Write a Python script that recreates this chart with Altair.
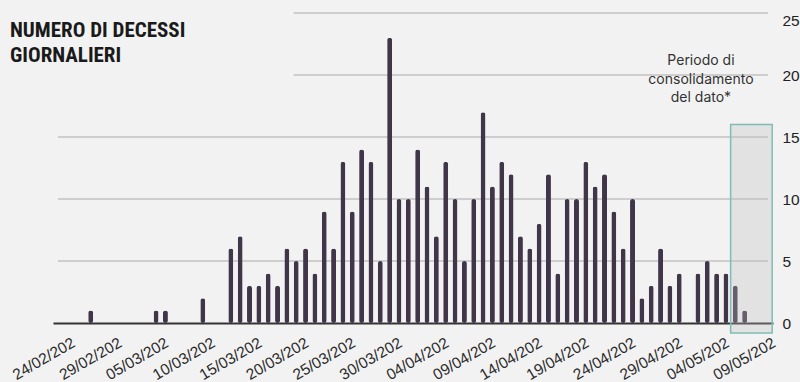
import altair as alt
import pandas as pd

# ---- data ----
start_date = "2020-02-24"
deaths = [0, 0, 0, 1, 0, 0, 0, 0, 0, 0,
          1, 1, 0, 0, 0, 2, 0, 0, 6, 7,
          3, 3, 4, 3, 6, 5, 6, 4, 9, 6,
          13, 9, 14, 13, 5, 23, 10, 10, 14, 11,
          7, 13, 10, 5, 10, 17, 11, 13, 12, 7,
          6, 8, 12, 4, 10, 10, 13, 11, 12, 9,
          6, 10, 2, 3, 6, 3, 4, 0, 4, 5,
          4, 4, 3, 1, 0, 0]
tick_days = [0, 5, 10, 15, 20, 25, 30, 35, 40, 45, 50, 55, 60, 65, 70, 75]
tick_labels = ["24/02/202", "29/02/202", "05/03/202", "10/03/202", "15/03/202",
               "20/03/202", "25/03/202", "30/03/202", "04/04/202", "09/04/202",
               "14/04/202", "19/04/202", "24/04/202", "29/04/202", "04/05/202",
               "09/05/202"]
y_ticks = [0, 5, 10, 15, 20, 25]
grid_values = [5, 10, 15, 20, 25]
grid_start = [-0.5, -0.5, -0.5, 24.73, 24.73]
grid_end = [75.5, 75.5, 75.5, 75.5, 75.5]
box_x = [71.5]
box_x2 = [75.95]
box_y = [16]
box_y2 = [-0.8]
note_day = [68]
note_value = [21.1]
note_text = ["Periodo di\nconsolidamento\ndel dato*"]

dates = pd.date_range(start_date, periods=len(deaths), freq="D")
df = pd.DataFrame({
    "day": list(range(len(deaths))),
    "date": [d.strftime("%d/%m/%Y") for d in dates],
    "deaths": deaths,
})
grid_df = pd.DataFrame({"v": grid_values, "x1": grid_start, "x2": grid_end})
box_df = pd.DataFrame({"x1": box_x, "x2": box_x2, "y1": box_y, "y2": box_y2})
note_df = pd.DataFrame({"day": note_day, "v": note_value, "t": note_text})

labels_js = "[" + ",".join("'%s'" % l for l in tick_labels) + "]"

xscale = alt.Scale(domain=[-0.5, 75.5], nice=False, zero=False)
yscale = alt.Scale(domain=[0, 25], nice=False)

xaxis = alt.Axis(
    values=tick_days,
    labelExpr=labels_js + "[round(datum.value / 5)]",
    labelAngle=-30, labelAlign="right", labelBaseline="top",
    labelFont="Liberation Sans", labelFontSize=15.5, labelColor="#2a2a2a",
    labelPadding=12, labelOffset=7, ticks=False, grid=False,
    domain=True, domainColor="#333333", domainWidth=2,
    title=None, labelOverlap=False, labelBound=False,
)
yaxis = alt.Axis(
    orient="right", values=y_ticks, grid=False, ticks=False, domain=False,
    labelFont="Liberation Sans", labelFontSize=15.5, labelColor="#222222",
    labelPadding=9, title=None,
    labelBaseline={"condition": {"test": "datum.value == 25", "value": "top"}, "value": "middle"},
)

grid = alt.Chart(grid_df).mark_rule(color="#c2c2c2", strokeWidth=1.5).encode(
    x=alt.X("x1:Q", scale=xscale, axis=xaxis),
    x2="x2:Q",
    y=alt.Y("v:Q", scale=yscale, axis=yaxis),
)

bars = alt.Chart(df).transform_filter("datum.deaths > 0").mark_bar(
    width=5, cornerRadius=2.5, color="#41354a"
).encode(
    x=alt.X("day:Q", scale=xscale),
    y=alt.Y("deaths:Q", scale=yscale),
    tooltip=["date:N", "deaths:Q"],
)

box = alt.Chart(box_df).mark_rect(
    fill="#bebebe", fillOpacity=0.3, stroke="#7fbdb3", strokeWidth=1.5
).encode(
    x=alt.X("x1:Q", scale=xscale), x2="x2:Q",
    y=alt.Y("y1:Q", scale=yscale), y2="y2:Q",
)

note = alt.Chart(note_df).mark_text(
    font="Inter", fontSize=14, color="#333333", align="center",
    baseline="middle", lineBreak="\n", lineHeight=18.5, dx=3
).encode(
    x=alt.X("day:Q", scale=xscale),
    y=alt.Y("v:Q", scale=yscale),
    text="t:N",
)

chart = alt.layer(grid, bars, box, note).properties(
    width=720, height=310,
    background="#f2f2f2",
    padding={"left": 53, "top": 13, "right": 27, "bottom": 59},
    autosize=alt.AutoSizeParams(type="none"),
    title=alt.TitleParams(
        text=["NUMERO DI DECESSI", "GIORNALIERI"],
        anchor="start", frame="group", orient="top",
        font="Roboto Condensed, DejaVu Sans Condensed, Roboto", fontSize=21, fontWeight="bold",
        color="#1a1a1a", baseline="top", lineHeight=25,
        dx=-43, dy=54, offset=0,
    ),
).configure_view(stroke=None)

chart.save("out.html", embed_options={"renderer": "svg", "actions": False})
